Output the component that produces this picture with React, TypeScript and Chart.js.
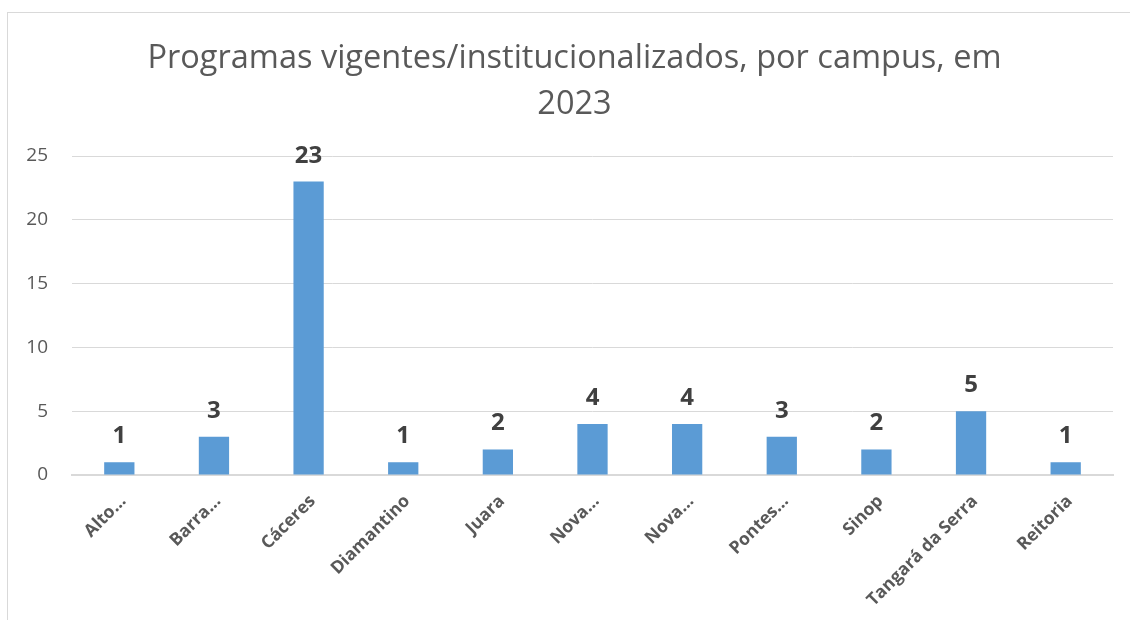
import React, { useEffect, useRef } from "react";
import { Chart, registerables } from "chart.js";

Chart.register(...registerables);

const titleLines = ["Programas vigentes/institucionalizados, por campus, em", "2023"];
const categories = [
  "Alto…",
  "Barra…",
  "Cáceres",
  "Diamantino",
  "Juara",
  "Nova…",
  "Nova…",
  "Pontes…",
  "Sinop",
  "Tangará da Serra",
  "Reitoria",
];
const values = [1, 3, 23, 1, 2, 4, 4, 3, 2, 5, 1];
const yTicks = [0, 5, 10, 15, 20, 25];

const FONT = "'Open Sans', 'DejaVu Sans', sans-serif";

const dataLabels = {
  id: "dataLabels",
  afterDatasetsDraw(chart: any) {
    const ctx = chart.ctx;
    const meta = chart.getDatasetMeta(0);
    ctx.save();
    ctx.font = `bold 24px ${FONT}`;
    ctx.fillStyle = "#404040";
    ctx.textAlign = "center";
    ctx.textBaseline = "alphabetic";
    meta.data.forEach((bar: any, i: number) => {
      ctx.fillText(String(values[i]), bar.x, bar.y - 19);
    });
    ctx.restore();
  },
};

const titleDraw = {
  id: "titleDraw",
  afterDraw(chart: any) {
    const ctx = chart.ctx;
    ctx.save();
    ctx.font = `32.5px ${FONT}`;
    ctx.fillStyle = "#595959";
    ctx.textAlign = "center";
    ctx.textBaseline = "middle";
    titleLines.forEach((line, i) => {
      ctx.fillText(line, 566.5, 46 + i * 46);
    });
    ctx.restore();
  },
};

export default function App() {
  const ref = useRef<HTMLCanvasElement>(null);
  useEffect(() => {
    if (!ref.current) return;
    const chart = new Chart(ref.current, {
      type: "bar",
      data: {
        labels: categories,
        datasets: [
          {
            data: values,
            backgroundColor: "#5B9BD5",
            borderWidth: 0,
            barPercentage: 1,
            categoryPercentage: 0.32,
          },
        ],
      },
      options: {
        animation: false,
        responsive: false,
        maintainAspectRatio: false,
        layout: { padding: { left: 0, right: 17, top: 143, bottom: 0 } },
        plugins: {
          legend: { display: false },
          tooltip: { enabled: false },
          title: { display: false },
        },
        scales: {
          x: {
            grid: { display: false, drawTicks: false },
            border: { display: true, color: "#d9d9d9", width: 2 },
            ticks: {
              color: "#595959",
              font: { family: FONT, size: 17.5, weight: "bold" },
              minRotation: 45,
              maxRotation: 45,
              autoSkip: false,
              padding: 16,
              labelOffset: 4,
            },
            afterFit(scale: any) {
              scale.height = 145;
            },
          },
          y: {
            min: 0,
            max: 25,
            afterBuildTicks(scale: any) {
              scale.ticks = yTicks.map((v) => ({ value: v }));
            },
            grid: { color: "#d9d9d9", lineWidth: 1, drawTicks: false },
            border: { display: false },
            ticks: {
              color: "#595959",
              font: { family: FONT, size: 19 },
              padding: 24,
            },
            afterFit(scale: any) {
              scale.width = 64;
            },
          },
        },
      },
      plugins: [dataLabels, titleDraw],
    });
    return () => chart.destroy();
  }, []);
  return (
    <div
      style={{
        position: "absolute",
        left: 7,
        top: 12,
        width: 1130,
        height: 620,
        border: "1px solid #d9d9d9",
        background: "#fff",
      }}
    >
      <canvas ref={ref} width={1122} height={607} style={{ display: "block" }} />
    </div>
  );
}
